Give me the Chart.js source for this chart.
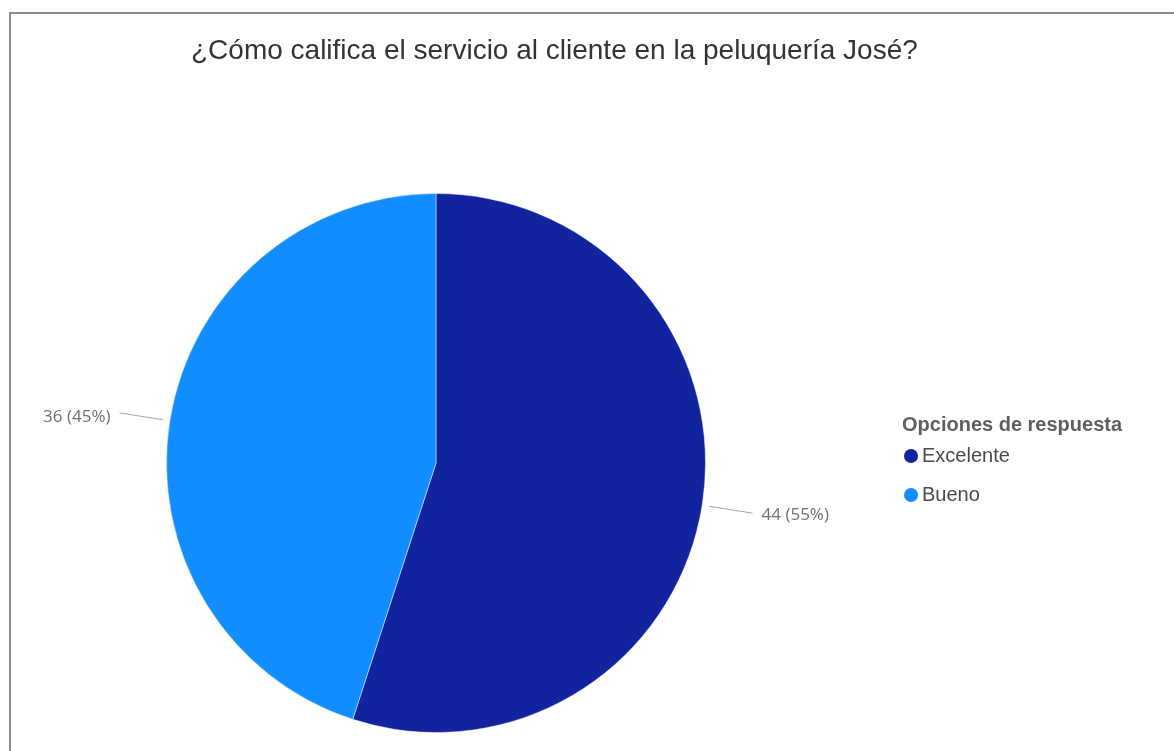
<!DOCTYPE html>
<html>
<head>
<meta charset="utf-8">
<script src="https://cdn.jsdelivr.net/npm/chart.js@4"></script>
<style>
  html, body { margin: 0; padding: 0; background: #fff; overflow: hidden; }
  #frame {
    position: absolute; left: 9px; top: 12px; right: -4px; bottom: -4px;
    border-left: 2px solid #8a8a8a; border-top: 2px solid #8a8a8a;
  }
  #chart { position: absolute; left: 0; top: 0; }
</style>
</head>
<body>
<div id="frame"></div>
<canvas id="chart" width="1174" height="751"></canvas>
<script>
const title = '¿Cómo califica el servicio al cliente en la peluquería José?';
const legendTitle = 'Opciones de respuesta';
const categories = ['Excelente', 'Bueno'];
const votes = [44, 36];
const colors = ['#12239E', '#118DFF'];

// slice labels "n (p%)" with short radial leader lines
const sliceLabels = {
    id: 'sliceLabels',
    afterDatasetsDraw(chart) {
        const ctx = chart.ctx;
        const meta = chart.getDatasetMeta(0);
        const total = votes.reduce((a, b) => a + b, 0);
        ctx.save();
        ctx.font = '17px "Open Sans", sans-serif';
        ctx.textBaseline = 'middle';
        meta.data.forEach((arc, i) => {
            const mid = (arc.startAngle + arc.endAngle) / 2;
            const cx = arc.x, cy = arc.y, r = arc.outerRadius;
            const x1 = cx + Math.cos(mid) * (r + 7);
            const y1 = cy + Math.sin(mid) * (r + 7);
            const x2 = cx + Math.cos(mid) * (r + 51);
            const y2 = cy + Math.sin(mid) * (r + 51);
            ctx.strokeStyle = '#a6a6a6';
            ctx.lineWidth = 1;
            ctx.beginPath();
            ctx.moveTo(x1, y1);
            ctx.lineTo(x2, y2);
            ctx.stroke();
            const right = Math.cos(mid) >= 0;
            const pct = Math.round(votes[i] / total * 100);
            ctx.fillStyle = '#707070';
            ctx.textAlign = right ? 'left' : 'right';
            ctx.fillText(votes[i] + ' (' + pct + '%)', x2 + (right ? 9 : -9), y2 + (right ? 2 : 4));
        });
        ctx.restore();
    }
};

// title and legend drawn beside the pie
const sideText = {
    id: 'sideText',
    afterDraw(chart) {
        const ctx = chart.ctx;
        ctx.save();
        ctx.textBaseline = 'middle';
        ctx.textAlign = 'left';
        ctx.fillStyle = '#333333';
        ctx.font = '28px "Liberation Sans", Arial, sans-serif';
        ctx.fillText(title, 191, 51);

        ctx.fillStyle = '#605E5C';
        ctx.font = 'bold 20px "Liberation Sans", Arial, sans-serif';
        ctx.fillText(legendTitle, 902, 425);
        ctx.font = '20px "Liberation Sans", Arial, sans-serif';
        categories.forEach((c, i) => {
            const y = 456 + i * 39;
            ctx.fillStyle = colors[i];
            ctx.beginPath();
            ctx.arc(911, y, 7, 0, Math.PI * 2);
            ctx.fill();
            ctx.fillStyle = '#4a4a4a';
            ctx.fillText(c, 922, y);
        });
        ctx.restore();
    }
};

new Chart(document.getElementById('chart'), {
    type: 'pie',
    data: {
        labels: categories,
        datasets: [{
            data: votes,
            backgroundColor: colors,
            borderColor: 'rgba(255,255,255,0.45)',
            borderWidth: 1
        }]
    },
    options: {
        responsive: false,
        animation: false,
        layout: { padding: { left: 166, right: 468, top: 193, bottom: 18 } },
        plugins: {
            legend: { display: false },
            tooltip: { enabled: false }
        }
    },
    plugins: [sliceLabels, sideText]
});
</script>
</body>
</html>
